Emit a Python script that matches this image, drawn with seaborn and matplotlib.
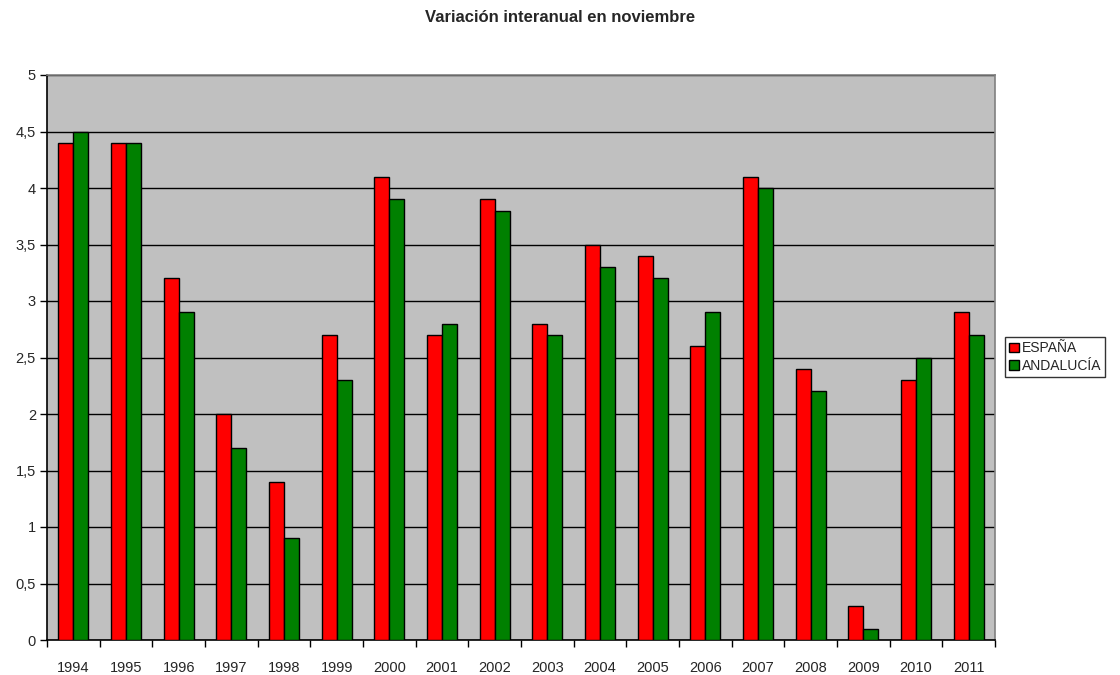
import pandas as pd
import matplotlib.pyplot as plt
import seaborn as sns
from matplotlib.ticker import MultipleLocator, FuncFormatter, FixedLocator
from matplotlib.patches import Patch

# data
years = ["1994", "1995", "1996", "1997", "1998", "1999", "2000", "2001", "2002",
         "2003", "2004", "2005", "2006", "2007", "2008", "2009", "2010", "2011"]
espana = [4.4, 4.4, 3.2, 2.0, 1.4, 2.7, 4.1, 2.7, 3.9, 2.8, 3.5, 3.4, 2.6, 4.1, 2.4, 0.3, 2.3, 2.9]
andalucia = [4.5, 4.4, 2.9, 1.7, 0.9, 2.3, 3.9, 2.8, 3.8, 2.7, 3.3, 3.2, 2.9, 4.0, 2.2, 0.1, 2.5, 2.7]
series = ["ESPAÑA", "ANDALUCÍA"]
colors = ["#FF0000", "#008000"]

df = pd.DataFrame({
    "Año": years * 2,
    "Valor": espana + andalucia,
    "Serie": [series[0]] * len(years) + [series[1]] * len(years),
})

sns.set_style("white")
plt.rcParams['font.family'] = ['Liberation Sans', 'DejaVu Sans']

fig = plt.figure(figsize=(11.2, 6.75), dpi=100)
ax = fig.add_axes([47 / 1120, 1 - 640 / 675, (995 - 47) / 1120, (640 - 75) / 675])
ax.set_facecolor("#C0C0C0")

sns.barplot(data=df, x="Año", y="Valor", hue="Serie", palette=colors,
            width=0.57, edgecolor="black", linewidth=1, saturation=1,
            ax=ax, legend=False, zorder=3)

ax.set_ylim(0, 5)
ax.set_xlim(-0.5, len(years) - 0.5)
ax.yaxis.set_major_locator(MultipleLocator(0.5))
ax.yaxis.set_major_formatter(FuncFormatter(lambda v, p: f"{v:g}".replace(".", ",")))
ax.grid(axis="y", color="black", linewidth=1, zorder=1)
ax.set_axisbelow(True)

# ticks between categories
ax.xaxis.set_minor_locator(FixedLocator([i - 0.5 for i in range(len(years) + 1)]))
ax.tick_params(axis="x", which="major", length=0, pad=15, labelsize=10.5)
ax.tick_params(axis="x", which="minor", length=5, width=1, color="black", direction="out", bottom=True)
ax.tick_params(axis="y", length=5, width=1, color="black", direction="out", left=True, labelsize=10.5, pad=3)

ax.set_xlabel("")
ax.set_ylabel("")

for side in ["left", "bottom"]:
    ax.spines[side].set_color("black")
    ax.spines[side].set_linewidth(1.2)
for side in ["top", "right"]:
    ax.spines[side].set_color("#808080")
    ax.spines[side].set_linewidth(1.2)

fig.text(0.5, 1 - 18 / 675, "Variación interanual en noviembre", ha="center", va="center",
         fontsize=12, fontweight="bold")

handles = [Patch(facecolor=c, edgecolor="black", linewidth=1) for c in colors]
leg = fig.legend(handles, series, loc="center left", bbox_to_anchor=(1005 / 1120, 1 - 357 / 675),
                 frameon=True, fancybox=False, edgecolor="black", fontsize=10,
                 handlelength=0.7, handleheight=0.7, handletextpad=0.2, borderpad=0.3,
                 labelspacing=0.25, borderaxespad=0)
leg.get_frame().set_linewidth(1)

fig.savefig("out.png", dpi=100)
